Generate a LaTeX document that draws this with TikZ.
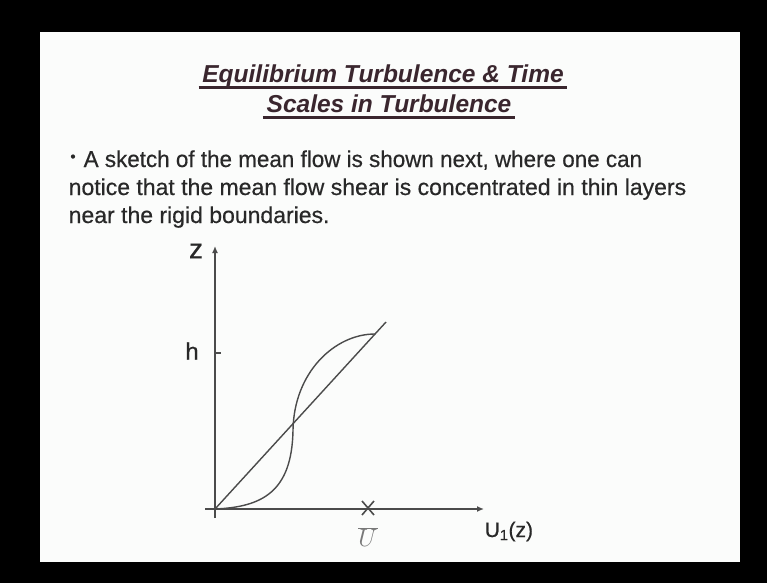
\documentclass[tikz,border=0pt]{standalone}
\usepackage{fontspec}
\setmainfont{Liberation Sans}
\newfontfamily\cuerpo[FakeBold=0.5]{Liberation Sans}
\usetikzlibrary{arrows.meta}

\definecolor{pizarra}{RGB}{251,252,251}
\definecolor{titulo}{RGB}{58,38,46}
\definecolor{tinta}{RGB}{40,40,40}
\definecolor{trazo}{RGB}{75,75,75}

\begin{document}
\begin{tikzpicture}[x=1pt,y=-1pt,line width=1.4pt,>={Latex[length=7pt,width=6pt]},
  texto/.style={anchor=base west,inner sep=0pt,text=tinta,font=\cuerpo\fontsize{23}{27}\selectfont},
  cabecera/.style={anchor=base,inner sep=0pt,text=titulo,font=\fontsize{24.5}{27}\selectfont\bfseries\itshape},
  rotulo/.style={inner sep=0pt,text=tinta,font=\cuerpo}]
  \useasboundingbox (0,0) rectangle (767,583);
  \fill[black] (0,0) rectangle (767,583);
  \fill[pizarra] (40,32) rectangle (740,562);
  % titulo subrayado
  \node[cabecera] (tit1) at (383,83) {Equilibrium Turbulence \& Time};
  \node[cabecera] (tit2) at (389,112) {Scales in Turbulence};
  \draw[titulo,line width=2.2pt] ([xshift=-3pt,yshift=-4.5pt]tit1.base west) -- ([xshift=3pt,yshift=-4.5pt]tit1.base east);
  \draw[titulo,line width=2.2pt] ([xshift=-3pt,yshift=-5.5pt]tit2.base west) -- ([xshift=3pt,yshift=-5.5pt]tit2.base east);
  % texto del punto
  \node[rotulo,font=\cuerpo\fontsize{15}{15}\selectfont] (punto) at (73,158) {•};
  \node[texto] (lin1) at (83,167) {\scalebox{0.975}[1]{A sketch of the mean flow is shown next, where one can}};
  \node[texto] (lin2) at (68,195) {notice that the mean flow shear is concentrated in thin layers};
  \node[texto] (lin3) at (68,223) {near the rigid boundaries.};
  % ejes
  \coordinate (O) at (215,509);
  \coordinate (zbot) at (215,518);
  \coordinate (ztop) at (215,246);
  \coordinate (ubeg) at (205,509);
  \coordinate (uend) at (484,509);
  \draw[trazo,->] (zbot) -- (ztop);
  \draw[trazo,->] (ubeg) -- (uend);
  \coordinate (h0) at (215,353);
  \coordinate (h1) at (221,353);
  \draw[trazo] (h0) -- (h1);
  \node[rotulo,font=\cuerpo\fontsize{28}{28}\selectfont] (zlab) at (196,251) {z};
  \node[rotulo,font=\cuerpo\fontsize{24}{24}\selectfont] (hlab) at (192,351) {h};
  % perfil lineal y perfil turbulento
  \coordinate (tope) at (386,322);
  \draw[trazo] (O) -- (tope);
  \draw[trazo] (O) .. controls (262,507) and (292,492) .. (293,430) .. controls (294,372) and (335,334) .. (375,334);
  % velocidad media
  \coordinate (um) at (368,508);
  \draw[trazo,line width=1.6pt] ([xshift=-6pt,yshift=7pt]um) -- ([xshift=6pt,yshift=-7pt]um);
  \draw[trazo,line width=1.6pt] ([xshift=-6pt,yshift=-7pt]um) -- ([xshift=6pt,yshift=7pt]um);
  \node[rotulo,text=trazo!75,font=\fontsize{23}{23}\selectfont] (ubar) at (368,537) {$\overline{U}$};
  \node[rotulo,anchor=base west,font=\cuerpo\fontsize{21}{21}\selectfont] (ulab) at (484,537) {U\textsubscript{1}(z)};
\end{tikzpicture}
\end{document}
